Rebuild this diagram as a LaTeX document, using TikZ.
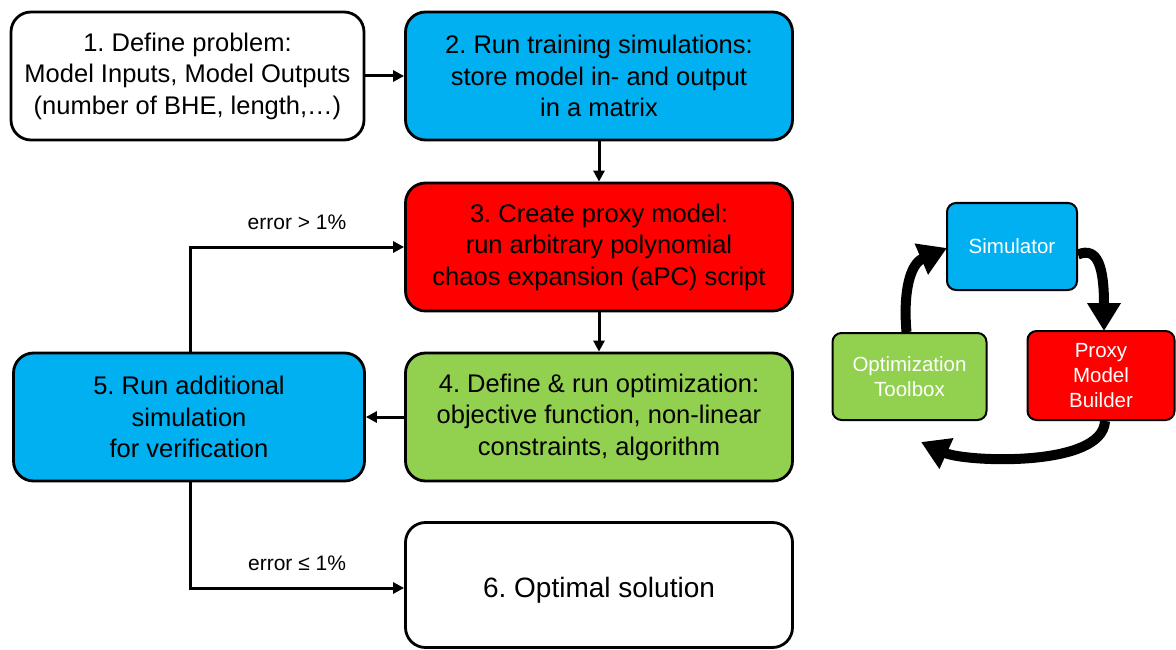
\documentclass[tikz,border=0pt]{standalone}
\usepackage{fontspec}
\setmainfont{Liberation Sans}
\usetikzlibrary{arrows.meta}
\definecolor{cblue}{HTML}{00B0F0}
\definecolor{cred}{HTML}{FF0000}
\definecolor{cgreen}{HTML}{92D050}
\frenchspacing
\begin{document}
\begin{tikzpicture}[x=1pt,y=-1pt,
  mainbox/.style={draw=black,line width=2.8pt,rounded corners=20pt,align=center,
    font=\fontsize{25.5}{31.5}\selectfont,inner sep=0pt,minimum height=128pt},
  cyclebox/.style={draw=black,line width=2pt,rounded corners=9pt,align=center,text=white,
    font=\fontsize{20.5}{25}\selectfont,inner sep=0pt,minimum height=87pt},
  flow/.style={line width=3pt,-{Triangle[length=11pt,width=11pt]}},
  loop/.style={line width=10pt,-{Triangle[length=28pt,width=32pt]}},
  lab/.style={font=\fontsize{21}{24}\selectfont}]
\useasboundingbox (0,0) rectangle (1176,650);
\node[mainbox,fill=white,minimum width=353pt] (b1) at (187.5,76) {1. Define problem:\\Model Inputs, Model Outputs\\(number of BHE, length,\dots)};
\node[mainbox,fill=cblue,minimum width=387pt] (b2) at (599,76) {2. Run training simulations:\\store model in- and output\\in a matrix};
\node[mainbox,fill=cred,minimum width=387pt] (b3) at (599,247) {3. Create proxy model:\\run arbitrary polynomial\\chaos expansion (aPC) script};
\node[mainbox,fill=cgreen,minimum width=387pt] (b4) at (599,417) {4. Define \& run optimization:\\objective function, non-linear\\constraints, algorithm};
\node[mainbox,fill=white,minimum width=351pt,fill=cblue] (b5) at (189,417) {5. Run additional\\simulation\\for verification};
\node[mainbox,fill=white,minimum width=387pt,minimum height=125pt,font=\fontsize{28}{32}\selectfont,text height=25pt,text depth=0pt] (b6) at (599,585) {6. Optimal solution};
\draw[flow] (b1.east) -- (b2.west);
\draw[flow] (b2.south) -- (b3.north);
\draw[flow] (b3.south) -- (b4.north);
\draw[flow] (b4.west) -- (b5.west -| b5.east);
\coordinate (c1) at (190,247);
\coordinate (c2) at (190,588);
\draw[flow] (b5.north -| c1) -- (c1) -- (c1 -| b3.west) node[lab,midway,above=12pt] {error > 1\%};
\draw[flow] (b5.south -| c2) -- (c2) -- (c2 -| b6.west) node[lab,midway,above=12pt] {error ≤ 1\%};
% cycle
\node[cyclebox,fill=cblue,minimum width=130pt] (sim) at (1012,246.5) {Simulator};
\node[cyclebox,fill=cred,minimum width=147pt,minimum height=89pt] (prx) at (1101,375.5) {Proxy\\Model\\Builder};
\node[cyclebox,fill=cgreen,minimum width=154pt] (opt) at (909.5,376.5) {Optimization\\Toolbox};
\coordinate (a1) at (1104,331);
\coordinate (a2) at (921,442);
\coordinate (a3) at (947,248);
\draw[loop] ([yshift=-8pt]sim.east) .. controls (1098,246) and (1104,268) .. (a1);
\draw[loop] ([xshift=4pt]prx.south) .. controls (1103,468) and (965,462) .. (a2);
\draw[loop] ([xshift=-3pt]opt.north) .. controls (903,292) and (910,264) .. (a3);
\end{tikzpicture}
\end{document}
